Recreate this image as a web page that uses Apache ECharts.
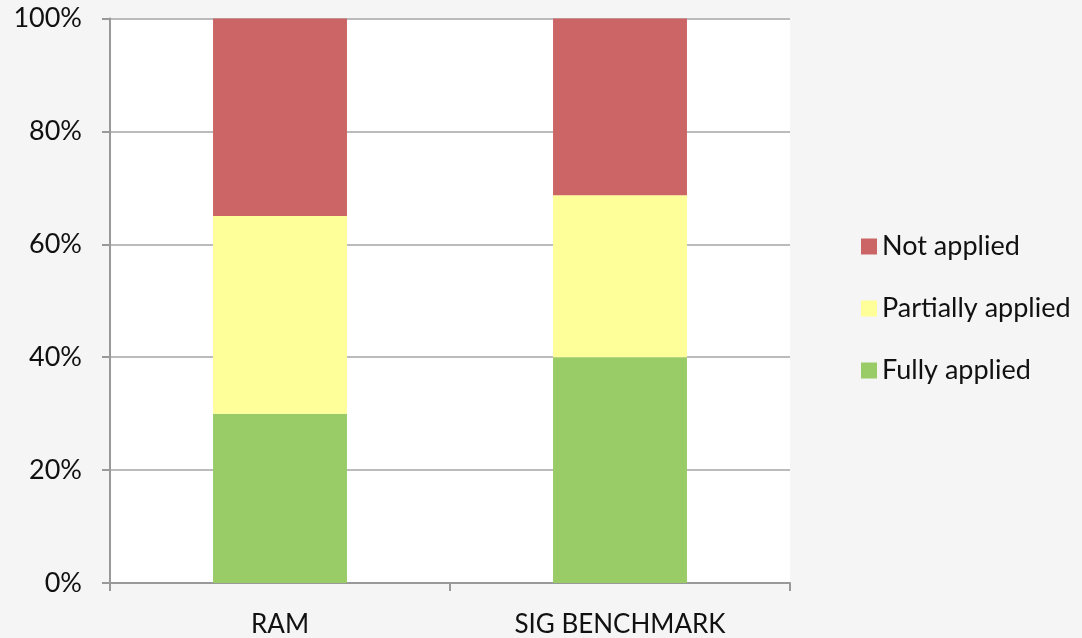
<!DOCTYPE html>
<html><head><meta charset="utf-8">
<script src="https://cdn.jsdelivr.net/npm/echarts@6/dist/echarts.min.js"></script>
<style>html,body{margin:0;padding:0;background:#f5f5f5;}#c{width:1082px;height:638px;}</style>
</head><body><div id="c"></div>
<script>
const categories = ['RAM', 'SIG BENCHMARK'];
const fullyApplied = [30, 40];
const partiallyApplied = [35, 28.7];
const notApplied = [35, 31.3];
const yTicks = ['0%', '20%', '40%', '60%', '80%', '100%'];

const FONT = 'Lato, "Open Sans", sans-serif';
const chart = echarts.init(document.getElementById('c'), null, {renderer: 'canvas'});
chart.setOption({
  backgroundColor: '#f5f5f5',
  animation: false,
  grid: {left: 110, right: 292, top: 18.5, bottom: 54, show: true, backgroundColor: '#ffffff', borderWidth: 0},
  legend: {
    orient: 'vertical', left: 856, top: 228,
    itemWidth: 16, itemHeight: 16, itemGap: 35,
    icon: 'rect',
    data: ['Not applied', 'Partially applied', 'Fully applied'],
    textStyle: {fontFamily: FONT, fontSize: 27, color: '#111', lineHeight: 27, padding: [0, 0, 0, 0]}
  },
  xAxis: {
    type: 'category', data: categories,
    axisLine: {lineStyle: {color: '#999', width: 2}},
    axisTick: {show: true, alignWithLabel: false, length: 8, lineStyle: {color: '#999', width: 2}},
    axisLabel: {fontFamily: FONT, fontSize: 26, color: '#111', margin: 29}
  },
  yAxis: {
    type: 'value', min: 0, max: 100, interval: 20,
    axisLine: {show: true, lineStyle: {color: '#999', width: 2}},
    axisTick: {show: true, length: 8, lineStyle: {color: '#999', width: 2}},
    splitLine: {lineStyle: {color: '#bbb', width: 2}},
    axisLabel: {fontFamily: FONT, fontSize: 27, color: '#111', margin: 28,
      formatter: v => yTicks[Math.round(v / 20)]}
  },
  series: [
    {name: 'Fully applied', type: 'bar', stack: 's', data: fullyApplied, barWidth: '39.4%', itemStyle: {color: '#99cc66'}},
    {name: 'Partially applied', type: 'bar', stack: 's', data: partiallyApplied, barWidth: '39.4%', itemStyle: {color: '#ffff99'}},
    {name: 'Not applied', type: 'bar', stack: 's', data: notApplied, barWidth: '39.4%', itemStyle: {color: '#cc6666'}}
  ]
});
</script></body></html>
